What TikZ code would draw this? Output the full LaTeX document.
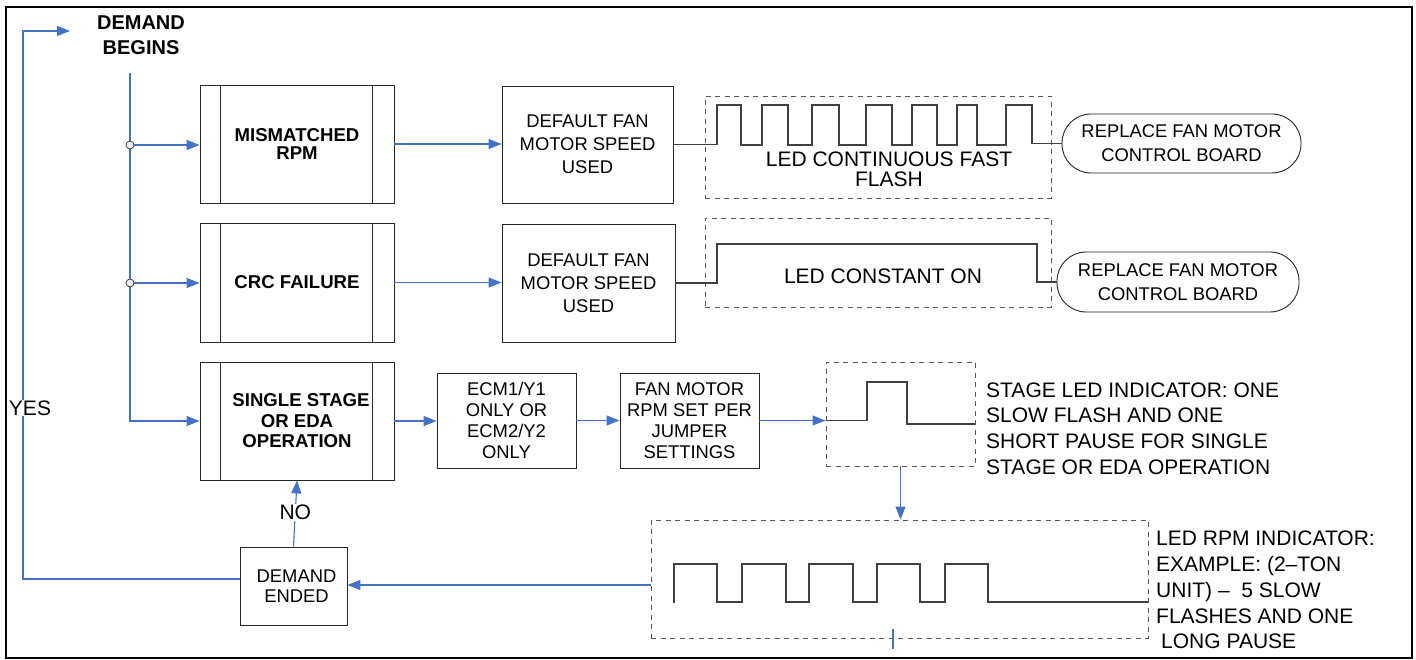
\documentclass[tikz,border=0pt]{standalone}
\usepackage{fontspec}
\setmainfont{Liberation Sans}
\usetikzlibrary{arrows.meta}
\definecolor{lnblue}{RGB}{68,114,196}
\newcommand\boxfnt{\fontsize{18.4}{23}\selectfont}
\newcommand\boldfnt{\fontsize{18.6}{18.5}\selectfont\bfseries}
\newcommand\descfnt{\fontsize{21}{25.8}\selectfont}
\begin{document}
\begin{tikzpicture}[x=1pt,y=-1pt,
  box/.style={draw=black!85, line width=0.9pt, inner sep=0pt, align=center, font=\boxfnt},
  pbox/.style={box, font=\boldfnt, minimum width=194pt},
  dbox/.style={draw=black!65, line width=0.9pt, dash pattern=on 5pt off 4.5pt, inner sep=0pt},
  term/.style={box, rounded corners=29pt, minimum height=60pt, font=\fontsize{18.4}{24}\selectfont},
  conn/.style={draw=lnblue, line width=1.1pt},
  arr/.style={conn, -{Triangle[length=13pt,width=10pt]}},
  wave/.style={draw=black!75, line width=1.1pt},
  jc/.style={circle, draw=black!80, fill=blue!8, line width=0.7pt, minimum size=8pt, inner sep=0pt},
  lbl/.style={font=\descfnt, inner sep=1pt},
  desc/.style={font=\descfnt, align=left, anchor=west, inner sep=0pt}]
\useasboundingbox (0,0) rectangle (1416,660);
\draw[line width=2.5pt] (6,7) rectangle (1412,658);

% nodes
\node[font=\fontsize{20}{25}\selectfont\bfseries, align=center] (dbeg) at (141,35) {DEMAND\\BEGINS};
\node[pbox, minimum height=118pt] (mis) at (297,144) {MISMATCHED\\RPM};
\node[pbox, minimum height=119pt] (crc) at (297,282.5) {CRC FAILURE};
\node[pbox, minimum height=118pt, font=\fontsize{18.6}{20.5}\selectfont\bfseries] (sse) at (297,421) {\hspace*{8pt}SINGLE STAGE\\OR EDA\\OPERATION};
\foreach \n in {mis,crc,sse}{
  \draw[line width=0.9pt, black!85] ([xshift=21pt]\n.north west) -- ([xshift=21pt]\n.south west)
        ([xshift=-22pt]\n.north east) -- ([xshift=-22pt]\n.south east);
}
\node[box, minimum width=171pt, minimum height=117pt] (def1) at (587.5,144.5) {DEFAULT FAN\\MOTOR SPEED\\USED};
\node[box, minimum width=173pt, minimum height=118pt] (def2) at (588.5,283) {DEFAULT FAN\\MOTOR SPEED\\USED};
\node[box, minimum width=139pt, minimum height=95pt, font=\fontsize{18.4}{21}\selectfont] (ecm) at (506.5,420.5) {ECM1/Y1\\ONLY OR\\ECM2/Y2\\ONLY};
\node[box, minimum width=139pt, minimum height=95pt, font=\fontsize{18.4}{21}\selectfont] (fan) at (689.5,420.5) {FAN MOTOR\\RPM SET PER\\JUMPER\\SETTINGS};
\node[box, minimum width=107pt, minimum height=78pt, font=\fontsize{18.4}{20}\selectfont] (dend) at (293.5,586) {\hspace*{6pt}DEMAND\\\hspace*{6pt}ENDED};
\node[term, minimum width=239pt, minimum height=59pt] (term1) at (1181.5,143.5) {REPLACE FAN MOTOR\\CONTROL BOARD};
\node[term, minimum width=242pt] (term2) at (1178,282) {REPLACE FAN MOTOR\\CONTROL BOARD};

\node[dbox, minimum width=346pt, minimum height=102pt] (dash1) at (878,147) {};
\node[dbox, minimum width=346pt, minimum height=89pt] (dash2) at (878,262.5) {};
\node[dbox, minimum width=149pt, minimum height=104pt] (dash3) at (900.5,414) {};
\node[dbox, minimum width=497pt, minimum height=118pt] (dash4) at (899.5,579) {};

\node[lbl, align=center, font=\fontsize{21}{20}\selectfont] (t1) at (889,169) {LED CONTINUOUS FAST\\FLASH};
\node[lbl] (t2) at (883,276) {LED CONSTANT ON};
\node[desc] (t3) at (986,428.5) {STAGE LED INDICATOR: ONE\\SLOW FLASH AND ONE\\SHORT PAUSE FOR SINGLE\\STAGE OR EDA OPERATION};
\node[desc] (t4) at (1156,590) {LED RPM INDICATOR:\\EXAMPLE: (2--TON\\UNIT) --\ \ 5 SLOW\\FLASHES AND ONE\\\hspace*{5pt}LONG PAUSE};

% waveforms
\draw[wave] (def1.east) -- (717,144.5) |- (741,105) |- (762,145) |- (788,105) |- (812,145) |- (839,105)
  |- (866,145) |- (892,105) |- (912,145) |- (937,105) |- (957,145) |- (977,105) |- (1006,145) |- (1032,105)
  |- (term1.west);
\draw[wave] (def2.east) -- (717,283) |- (1037,244) |- (term2.west);
\draw[wave] (dash3.west |- fan.east) -- (867,420.5) |- (907,382) |- (dash3.east |- 0,424);
\draw[wave] (674,603) -- (674,564) -| (717,602) -| (742,564) -| (786,602) -| (809,564) -| (853,602)
  -| (877,564) -| (920,602) -| (945,564) -| (988,602) -- (dash4.east |- 0,602);

% connectors
\coordinate (dtop) at (130,73);
\coordinate (lend) at (70,31);
\draw[arr] (dtop) |- (sse.west);
\node[jc] (c1) at (130,145) {};
\node[jc] (c2) at (130,283) {};
\draw[arr] (c1.east) -- (c1.east -| mis.west);
\draw[arr] (c2.east) -- (c2.east -| crc.west);
\draw[arr] (mis.east) -- (mis.east -| def1.west);
\draw[arr] (crc.east) -- (crc.east -| def2.west);
\draw[arr] (sse.east) -- (sse.east -| ecm.west);
\draw[arr] (ecm.east) -- (fan.west);
\draw[arr] (fan.east) -- (fan.east -| dash3.west);
\draw[arr] (dash3.south) -- (dash3.south |- dash4.north);
\draw[arr] (dash4.west |- 0,585) -- (dend.east |- 0,585);
\draw[arr] (dend.north) -- node[lbl, fill=white, pos=0.52] {NO} (sse.south);
\draw[arr] (dend.west |- 0,579) -- (23,579) -- (23,31) -- (lend);
\node[lbl, fill=white] (yes) at (30,408) {YES};
\coordinate (k1) at (893,629);
\coordinate (k2) at (893,649);
\draw[conn] (k1) -- (k2);
\end{tikzpicture}
\end{document}
